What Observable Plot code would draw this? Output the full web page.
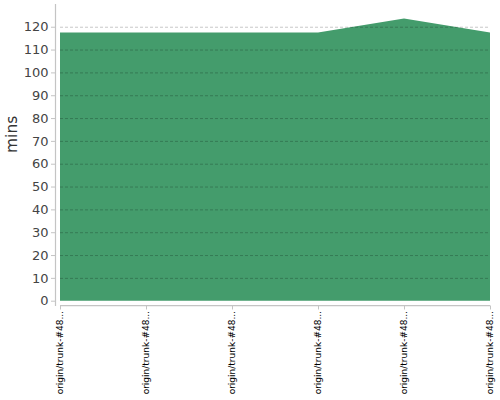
<!DOCTYPE html>
<html>
<head>
<meta charset="utf-8">
<script src="https://cdn.jsdelivr.net/npm/d3@7"></script>
<script src="https://cdn.jsdelivr.net/npm/@observablehq/plot@0.6"></script>
<style>
  html, body { margin: 0; padding: 0; background: #fff; }
  svg { display: block; font-family: "DejaVu Sans", sans-serif; }
</style>
</head>
<body>
<div id="chart"></div>
<script>
const buildLabels = [
  "origin/trunk-#48...",
  "origin/trunk-#48...",
  "origin/trunk-#48...",
  "origin/trunk-#48...",
  "origin/trunk-#48...",
  "origin/trunk-#48..."
];
const buildIndex = [0, 1, 2, 3, 4, 5];
const durationMins = [117.5, 117.5, 117.5, 117.5, 123.6, 117.5];
const yTicks = [0, 10, 20, 30, 40, 50, 60, 70, 80, 90, 100, 110, 120];
const gridValues = [10, 20, 30, 40, 50, 60, 70, 80, 90, 100, 110, 120];

const data = buildIndex.map((i) => ({i, v: durationMins[i]}));
const first = buildIndex[0], last = buildIndex[buildIndex.length - 1];

const chart = Plot.plot({
  width: 500,
  height: 400,
  marginLeft: 55,
  marginRight: 9,
  marginTop: 4,
  marginBottom: 95,
  style: {fontFamily: "DejaVu Sans, sans-serif", background: "#fff"},
  x: {type: "point", domain: buildIndex, range: [59, 491], padding: 0},
  y: {domain: [0, 130], range: [300.7, 3.9]},
  marks: [
    Plot.areaY(data, {x: "i", y: "v", fill: "#449c6c", curve: "linear"}),
    Plot.ruleY(gridValues, {x1: first, x2: last, stroke: "#000", strokeOpacity: 0.22, strokeDasharray: "3,2"}),
    Plot.frame({anchor: "left", stroke: "#c4c4c4", strokeWidth: 1.2}),
    Plot.ruleY([0], {x1: first, x2: last, dy: 4.5, stroke: "#c4c4c4", strokeWidth: 1.2}),
    Plot.axisY({ticks: yTicks, tickSize: 4, tickPadding: 3, stroke: "#c4c4c4", fill: "#444", fontSize: 13, label: null}),
    Plot.axisX({ticks: buildIndex, tickSize: 4, tickPadding: 1, tickRotate: -90, dy: 0.5,
      tickFormat: (i) => buildLabels[i], stroke: "#c4c4c4", fill: "#000", fontSize: 9, label: null}),
    Plot.text(["mins"], {frameAnchor: "left", dx: -43, dy: -2, rotate: -90, fontSize: 15.5, fill: "#333", text: (d) => d})
  ]
});
document.getElementById("chart").appendChild(chart);
</script>
</body>
</html>
